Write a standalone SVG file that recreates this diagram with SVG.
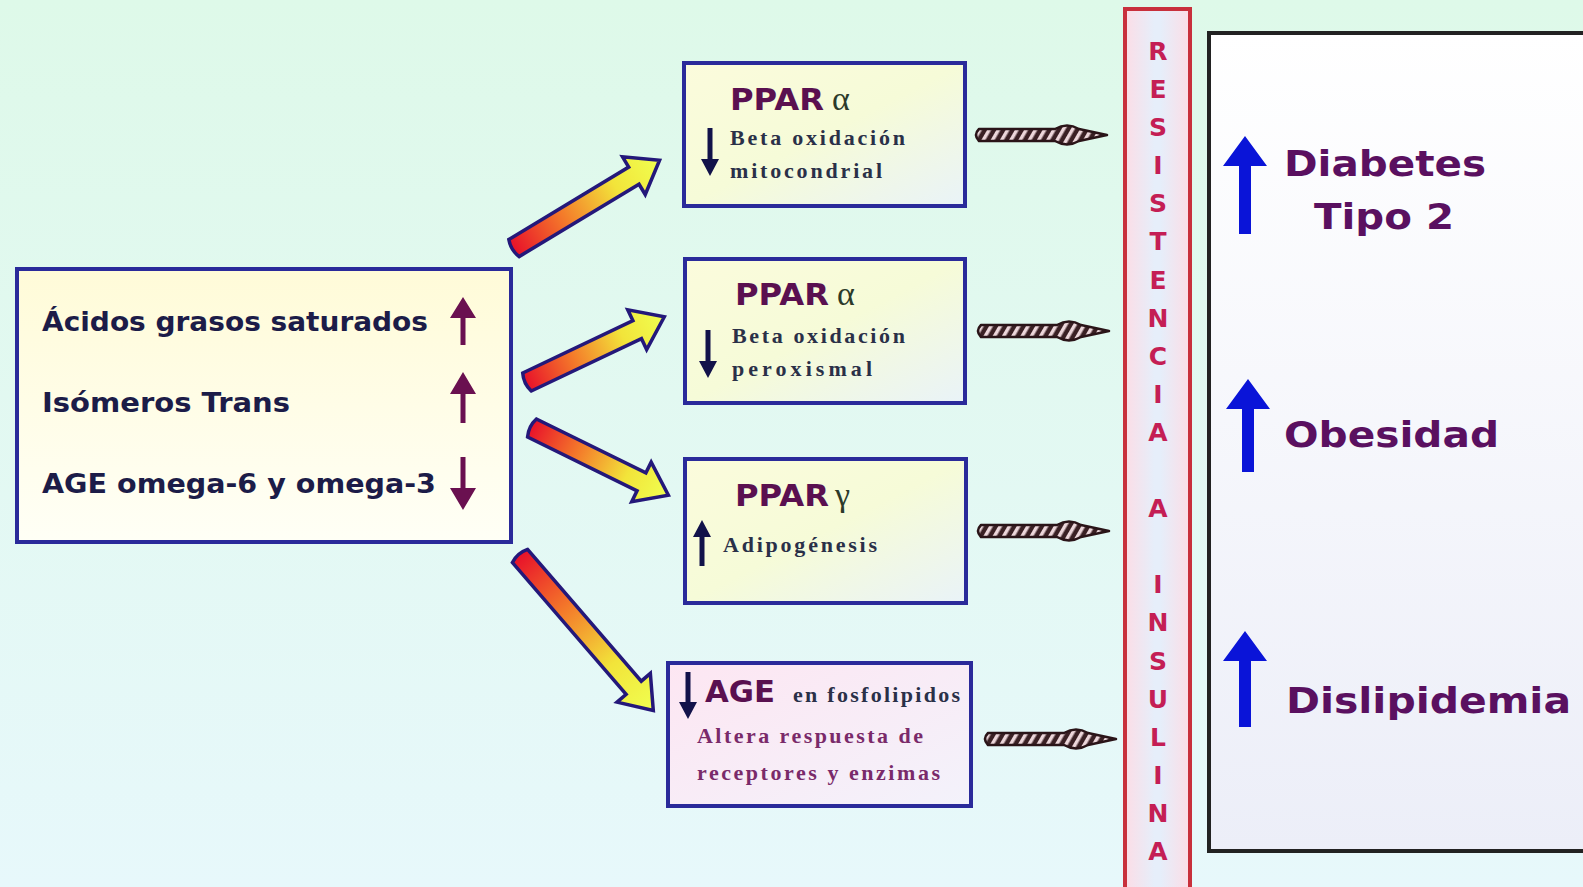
<svg xmlns="http://www.w3.org/2000/svg" width="1583" height="887" viewBox="0 0 1583 887">
<defs>
<linearGradient id="bg" x1="0" y1="0" x2="0" y2="1">
<stop offset="0" stop-color="#def9e9"/><stop offset="1" stop-color="#e7f8fb"/>
</linearGradient>
<linearGradient id="leftFill" x1="0" y1="0" x2="0" y2="1">
<stop offset="0" stop-color="#fffbd8"/><stop offset="1" stop-color="#fffff6"/>
</linearGradient>
<linearGradient id="pparFill" x1="0" y1="0" x2="1" y2="1">
<stop offset="0" stop-color="#fbfbdc"/><stop offset="0.5" stop-color="#f6fbd8"/><stop offset="1" stop-color="#e9f3f8"/>
</linearGradient>
<linearGradient id="ageFill" x1="0" y1="0" x2="1" y2="1">
<stop offset="0" stop-color="#fde6f2"/><stop offset="1" stop-color="#f3f2fb"/>
</linearGradient>
<linearGradient id="rightFill" x1="0" y1="0" x2="0" y2="1">
<stop offset="0" stop-color="#ffffff"/><stop offset="1" stop-color="#eceef8"/>
</linearGradient>
<linearGradient id="barFill" x1="0" y1="0" x2="1" y2="0">
<stop offset="0" stop-color="#fcdde6"/><stop offset="0.45" stop-color="#e6eefa"/><stop offset="0.55" stop-color="#e6eefa"/><stop offset="1" stop-color="#fcdde6"/>
</linearGradient>
<linearGradient id="bigArrow" x1="0" y1="0" x2="1" y2="0">
<stop offset="0" stop-color="#e8102a"/><stop offset="0.35" stop-color="#f47a2a"/><stop offset="0.7" stop-color="#f2e43a"/><stop offset="1" stop-color="#f0ff50"/>
</linearGradient>
<pattern id="hatch" patternUnits="userSpaceOnUse" width="8" height="8" patternTransform="rotate(30)">
<rect width="8" height="8" fill="#3a2024"/>
<rect width="3.5" height="8" fill="#ecd6da"/>
</pattern>
<g id="striped">
<path d="M4,-6 L80,-6 Q92,-13 104,-6 L118,-3 L132,0 L118,3 L104,6 Q92,13 80,6 L4,6 Q-2,0 4,-6 Z" fill="url(#hatch)" stroke="#2a1418" stroke-width="2.5" stroke-linejoin="round"/>
</g>
</defs>
<style>
.box{stroke:#2a2a9a;stroke-width:4}
.lbl{font-family:"DejaVu Sans","Verdana",sans-serif;font-weight:bold;fill:#1c1c48}
.ppar{font-family:"DejaVu Sans",sans-serif;font-weight:bold;fill:#5a1050;font-size:30px}
.greek{font-family:"Liberation Serif",serif;fill:#2c3a2a;font-size:34px}
.ser{font-family:"Liberation Serif",serif;font-weight:bold;fill:#2a3048;font-size:22px}
.ser2{font-family:"Liberation Serif",serif;font-weight:bold;fill:#7a2a6a;font-size:22px}
.res{font-family:"DejaVu Sans",sans-serif;font-weight:bold;fill:#c41e55;font-size:25px;text-anchor:middle}
.out{font-family:"DejaVu Sans",sans-serif;font-weight:bold;fill:#5a1060;font-size:36px}
.mag{fill:#6a1050}
.navy{fill:#12124a}
.blue{fill:#0a14d8}
.big{fill:url(#bigArrow);stroke:#24187a;stroke-width:3.5;stroke-linejoin:miter}
</style>
<rect x="0" y="0" width="1583" height="887" fill="url(#bg)"/>

<g id="node-sources">
<rect class="box" x="17" y="269" width="494" height="273" fill="url(#leftFill)"/>
<text class="lbl" x="42" y="331" font-size="27" textLength="386" lengthAdjust="spacingAndGlyphs">Ácidos grasos saturados</text>
<text class="lbl" x="42" y="412" font-size="27" textLength="248" lengthAdjust="spacingAndGlyphs">Isómeros Trans</text>
<text class="lbl" x="42" y="493" font-size="27" textLength="394" lengthAdjust="spacingAndGlyphs">AGE omega-6 y omega-3</text>
<path class="mag" d="M460.5,345 L460.5,318 L450,318 L463,297 L476,318 L465.5,318 L465.5,345 Z"/>
<path class="mag" d="M460.5,423 L460.5,394 L450,394 L463,372 L476,394 L465.5,394 L465.5,423 Z"/>
<path class="mag" d="M460.5,457 L460.5,488 L450,488 L463,510 L476,488 L465.5,488 L465.5,457 Z"/>
</g>

<g id="node-ppar-alpha-mito">
<rect class="box" x="684" y="63" width="281" height="143" fill="url(#pparFill)"/>
<text class="ppar" x="730" y="110" textLength="94" lengthAdjust="spacingAndGlyphs">PPAR</text>
<text class="greek" x="832" y="110">α</text>
<text class="ser" x="730" y="145" textLength="175" lengthAdjust="spacing">Beta oxidación</text>
<text class="ser" x="730" y="178" textLength="152" lengthAdjust="spacing">mitocondrial</text>
<path class="navy" d="M707.5,128 L712.5,128 L712.5,159 L719,159 L710,176 L701,159 L707.5,159 Z"/>
</g>

<g id="node-ppar-alpha-perox">
<rect class="box" x="685" y="259" width="280" height="144" fill="url(#pparFill)"/>
<text class="ppar" x="735" y="305" textLength="94" lengthAdjust="spacingAndGlyphs">PPAR</text>
<text class="greek" x="837" y="305">α</text>
<text class="ser" x="732" y="343" textLength="173" lengthAdjust="spacing">Beta oxidación</text>
<text class="ser" x="732" y="376" textLength="140" lengthAdjust="spacing">peroxismal</text>
<path class="navy" d="M705.5,330 L710.5,330 L710.5,361 L717,361 L708,378 L699,361 L705.5,361 Z"/>
</g>

<g id="node-ppar-gamma">
<rect class="box" x="685" y="459" width="281" height="144" fill="url(#pparFill)"/>
<text class="ppar" x="735" y="506" textLength="94" lengthAdjust="spacingAndGlyphs">PPAR</text>
<text class="greek" x="835" y="506">γ</text>
<text class="ser" x="723" y="552" font-size="21" textLength="154" lengthAdjust="spacing">Adipogénesis</text>
<path class="navy" d="M699.5,566 L704.5,566 L704.5,537 L711,537 L702,520 L693,537 L699.5,537 Z"/>
</g>

<g id="node-age">
<rect class="box" x="668" y="663" width="303" height="143" fill="url(#ageFill)"/>
<path class="navy" d="M685.5,672 L690.5,672 L690.5,702 L697,702 L688,719 L679,702 L685.5,702 Z"/>
<text class="ppar" x="705" y="702" textLength="70" lengthAdjust="spacingAndGlyphs">AGE</text>
<text class="ser" x="793" y="702" font-size="21" textLength="167" lengthAdjust="spacing">en fosfolipidos</text>
<text class="ser2" x="697" y="743" textLength="226" lengthAdjust="spacing">Altera respuesta de</text>
<text class="ser2" x="697" y="780" textLength="243" lengthAdjust="spacing">receptores y enzimas</text>
</g>

<g id="node-resistencia">
<rect x="1125" y="9" width="65" height="880" fill="url(#barFill)" stroke="#c8303c" stroke-width="4"/>
<text class="res" x="1158" y="60">R</text>
<text class="res" x="1158" y="98">E</text>
<text class="res" x="1158" y="136">S</text>
<text class="res" x="1158" y="174">I</text>
<text class="res" x="1158" y="212">S</text>
<text class="res" x="1158" y="250">T</text>
<text class="res" x="1158" y="289">E</text>
<text class="res" x="1158" y="327">N</text>
<text class="res" x="1158" y="365">C</text>
<text class="res" x="1158" y="403">I</text>
<text class="res" x="1158" y="441">A</text>
<text class="res" x="1158" y="517">A</text>
<text class="res" x="1158" y="593">I</text>
<text class="res" x="1158" y="631">N</text>
<text class="res" x="1158" y="670">S</text>
<text class="res" x="1158" y="708">U</text>
<text class="res" x="1158" y="746">L</text>
<text class="res" x="1158" y="784">I</text>
<text class="res" x="1158" y="822">N</text>
<text class="res" x="1158" y="860">A</text>
</g>

<g id="node-outcomes">
<rect x="1209" y="33" width="380" height="818" fill="url(#rightFill)" stroke="#222222" stroke-width="4"/>
<path class="blue" d="M1239,234 L1239,166 L1223,166 L1245,136 L1267,166 L1251,166 L1251,234 Z"/>
<text class="out" x="1284" y="176" textLength="202" lengthAdjust="spacingAndGlyphs">Diabetes</text>
<text class="out" x="1314" y="229" textLength="140" lengthAdjust="spacingAndGlyphs">Tipo 2</text>
<path class="blue" d="M1242,472 L1242,409 L1226,409 L1248,379 L1270,409 L1254,409 L1254,472 Z"/>
<text class="out" x="1284" y="447" textLength="215" lengthAdjust="spacingAndGlyphs">Obesidad</text>
<path class="blue" d="M1239,727 L1239,661 L1223,661 L1245,631 L1267,661 L1251,661 L1251,727 Z"/>
<text class="out" x="1286" y="713" textLength="285" lengthAdjust="spacingAndGlyphs">Dislipidemia</text>
</g>

<g id="connectors">
<g transform="translate(514,248) rotate(-31.1)"><path class="big" d="M0,-10 L140,-10 L140,-22 L170,0 L140,22 L140,10 L0,10 Q-4,0 0,-10 Z"/></g>
<g transform="translate(527,382) rotate(-25.4)"><path class="big" d="M0,-10 L122,-10 L122,-22 L152,0 L122,22 L122,10 L0,10 Q-4,0 0,-10 Z"/></g>
<g transform="translate(532,428) rotate(26.2)"><path class="big" d="M0,-10 L122,-10 L122,-22 L152,0 L122,22 L122,10 L0,10 Q-4,0 0,-10 Z"/></g>
<g transform="translate(520,556) rotate(49.2)"><path class="big" d="M0,-10 L174,-10 L174,-22 L204,0 L174,22 L174,10 L0,10 Q-4,0 0,-10 Z"/></g>
<use href="#striped" transform="translate(975,135)"/>
<use href="#striped" transform="translate(977,331)"/>
<use href="#striped" transform="translate(977,531)"/>
<use href="#striped" transform="translate(984,739)"/>
</g>
</svg>
